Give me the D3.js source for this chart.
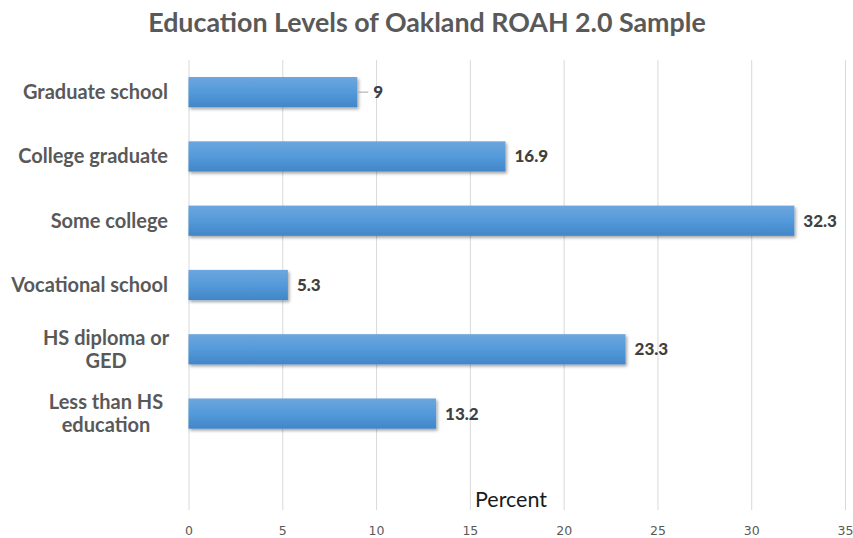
<!DOCTYPE html>
<html>
<head>
<meta charset="utf-8">
<script src="https://cdn.jsdelivr.net/npm/d3@7"></script>
<style>
  html, body { margin: 0; padding: 0; background: #fff; }
  svg { display: block; }
</style>
</head>
<body>
<svg id="chart" width="853" height="538"></svg>
<script>
const categories = ["Graduate school", "College graduate", "Some college", "Vocational school", "HS diploma or GED", "Less than HS education"];
const categoryLines = [["Graduate school"], ["College graduate"], ["Some college"], ["Vocational school"], ["HS diploma or", "GED"], ["Less than HS", "education"]];
const values = [9, 16.9, 32.3, 5.3, 23.3, 13.2];
const xTicks = [0, 5, 10, 15, 20, 25, 30, 35];
const titleText = "Education Levels of Oakland ROAH 2.0 Sample";
const axisTitle = "Percent";

const W = 853, H = 538;
const margin = { left: 188.5, right: 8, top: 60, bottom: 28 };
const plotBottom = H - margin.bottom; // 510
const nSlots = categories.length + 1; // one empty slot below last category
const step = (plotBottom - margin.top) / nSlots;

const svg = d3.select("#chart");
const font = "Lato, 'Open Sans', sans-serif";

const x = d3.scaleLinear().domain([0, 35]).range([margin.left, 845]);
const y = d3.scaleBand().domain(categories)
  .range([margin.top, margin.top + step * categories.length])
  .paddingInner(0.53).paddingOuter(0.265);

const defs = svg.append("defs");
const grad = defs.append("linearGradient").attr("id", "barGrad")
  .attr("x1", 0).attr("y1", 0).attr("x2", 0).attr("y2", 1);
grad.append("stop").attr("offset", "0%").attr("stop-color", "#6ca6dd");
grad.append("stop").attr("offset", "50%").attr("stop-color", "#549ada");
grad.append("stop").attr("offset", "100%").attr("stop-color", "#4186c8");
const shadow = defs.append("filter").attr("id", "shadow")
  .attr("x", "-5%").attr("y", "-20%").attr("width", "115%").attr("height", "160%");
shadow.append("feDropShadow").attr("dx", 1.5).attr("dy", 2).attr("stdDeviation", 1.5)
  .attr("flood-color", "#000").attr("flood-opacity", 0.35);

// Title
svg.append("text").attr("x", 427).attr("y", 32)
  .attr("text-anchor", "middle")
  .attr("font-family", font).attr("font-weight", "bold").attr("font-size", 26.8)
  .attr("fill", "#595959").text(titleText);

// Gridlines via axis
const xAxis = d3.axisBottom(x).tickValues(xTicks).tickSize(-(plotBottom - margin.top)).tickPadding(0);
const gx = svg.append("g").attr("transform", `translate(0,${plotBottom})`).call(xAxis);
gx.select(".domain").remove();
gx.selectAll(".tick line").attr("stroke", "#d9d9d9").attr("stroke-width", 1);
gx.selectAll(".tick text")
  .attr("y", 25).attr("dy", null)
  .attr("font-family", "'DejaVu Sans', Verdana, sans-serif").attr("font-size", 12.5).attr("fill", "#595959");

// Axis title
svg.append("text").attr("x", 511).attr("y", 507)
  .attr("text-anchor", "middle")
  .attr("font-family", font).attr("font-size", 21.5).attr("fill", "#1a1a1a")
  .text(axisTitle);

// Bars
svg.append("g").selectAll("rect").data(values).join("rect")
  .attr("x", x(0))
  .attr("y", (d, i) => y(categories[i]))
  .attr("width", d => x(d) - x(0))
  .attr("height", y.bandwidth())
  .attr("fill", "url(#barGrad)")
  .attr("filter", "url(#shadow)");

// Value labels (first one has a leader line)
const lead = svg.append("g");
values.forEach((v, i) => {
  const cy = y(categories[i]) + y.bandwidth() / 2;
  const hasLeader = i === 0;
  if (hasLeader) {
    lead.append("line").attr("x1", x(v) + 1).attr("x2", x(v) + 11)
      .attr("y1", cy).attr("y2", cy).attr("stroke", "#a6a6a6").attr("stroke-width", 1);
  }
  svg.append("text")
    .attr("x", x(v) + (hasLeader ? 16 : 9))
    .attr("y", cy).attr("dy", "0.35em")
    .attr("font-family", font).attr("font-weight", "900").attr("font-size", 17)
    .attr("fill", "#404040").text(v);
});

// Category labels
categoryLines.forEach((lines, i) => {
  const cy = y(categories[i]) + y.bandwidth() / 2;
  const lh = 23;
  const multi = lines.length > 1;
  const t = svg.append("text")
    .attr("font-family", font).attr("font-weight", "bold").attr("font-size", 20)
    .attr("fill", "#595959")
    .attr("text-anchor", multi ? "middle" : "end");
  lines.forEach((ln, j) => {
    t.append("tspan")
      .attr("x", multi ? 106 : 168)
      .attr("y", cy + (j - (lines.length - 1) / 2) * lh)
      .attr("dy", "0.35em")
      .text(ln);
  });
});
</script>
</body>
</html>
